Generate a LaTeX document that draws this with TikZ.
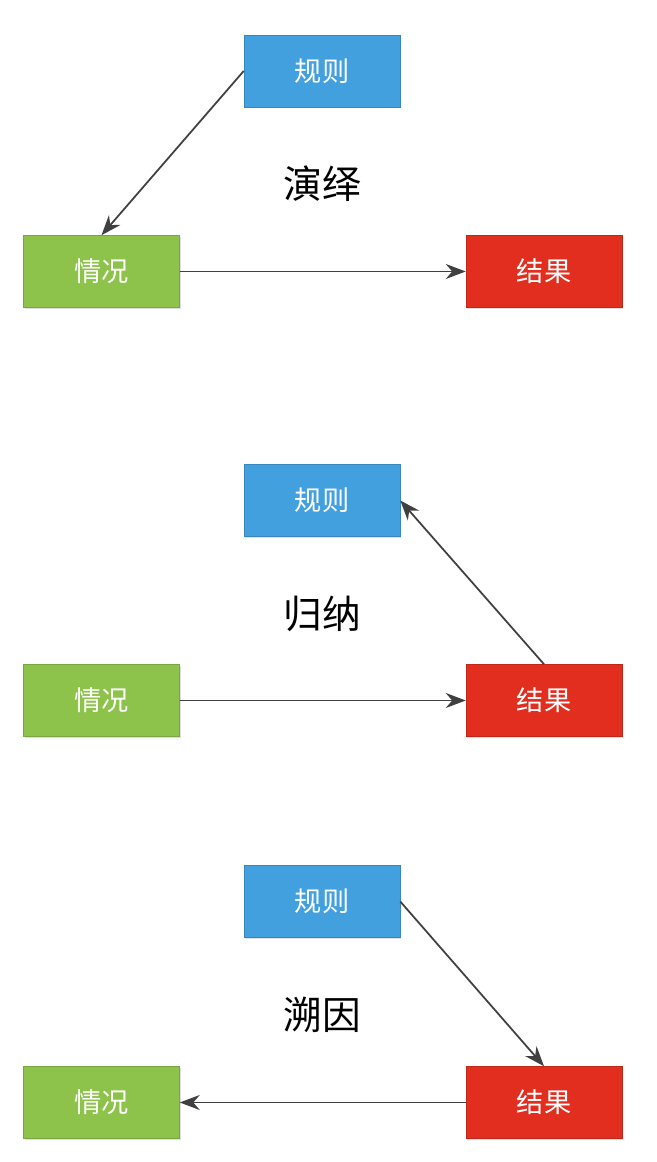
\documentclass[tikz,border=0pt]{standalone}
\usepackage{fontspec}
\newfontfamily\cjk{Noto Sans CJK SC}
\usetikzlibrary{arrows.meta,shadows}

\definecolor{ruleblue}{RGB}{66,160,222}
\definecolor{casegreen}{RGB}{141,195,74}
\definecolor{resultred}{RGB}{226,46,30}
\definecolor{linegray}{RGB}{64,64,64}

\tikzset{
    box/.style={minimum width=3.12cm, minimum height=1.44cm, inner sep=0pt,
        text=white, font=\cjk\fontsize{15.5}{18}\selectfont,
        drop shadow={opacity=0.25, shadow xshift=0.6pt, shadow yshift=-0.8pt}},
    rulebox/.style={box, fill=ruleblue, draw=ruleblue!85!black, line width=0.3pt},
    casebox/.style={box, fill=casegreen, draw=casegreen!85!black, line width=0.3pt},
    resultbox/.style={box, fill=resultred, draw=resultred!85!black, line width=0.3pt},
    title/.style={font=\cjk\fontsize{22}{26}\selectfont},
    link/.style={-{Stealth[length=4mm,width=3mm]}, linegray, line width=1pt}
}

\begin{document}
\begin{tikzpicture}
        \useasboundingbox (0,0) rectangle (13.12,23.24);

        % deduction
        \node[rulebox] (rule1) at (6.44,21.82) {规则};
        \node[casebox] (case1) at (2.03,17.81) {情况};
        \node[resultbox] (result1) at (10.88,17.81) {结果};
        \node[title] (deduct) at (6.44,19.56) {演绎};
        \draw[link] (rule1.west) -- (case1.north);
        \draw[link] (case1.east) -- (result1.west);

        % induction
        \node[rulebox] (rule2) at (6.44,13.23) {规则};
        \node[casebox] (case2) at (2.03,9.23) {情况};
        \node[resultbox] (result2) at (10.88,9.23) {结果};
        \node[title] (induct) at (6.44,10.96) {归纳};
        \draw[link] (case2.east) -- (result2.west);
        \draw[link] (result2.north) -- (rule2.east);

        % abduction
        \node[rulebox] (rule3) at (6.44,5.21) {规则};
        \node[casebox] (case3) at (2.03,1.19) {情况};
        \node[resultbox] (result3) at (10.88,1.19) {结果};
        \node[title] (abduct) at (6.44,2.94) {溯因};
        \draw[link] (rule3.east) -- (result3.north);
        \draw[link] (result3.west) -- (case3.east);
    \end{tikzpicture}
\end{document}
